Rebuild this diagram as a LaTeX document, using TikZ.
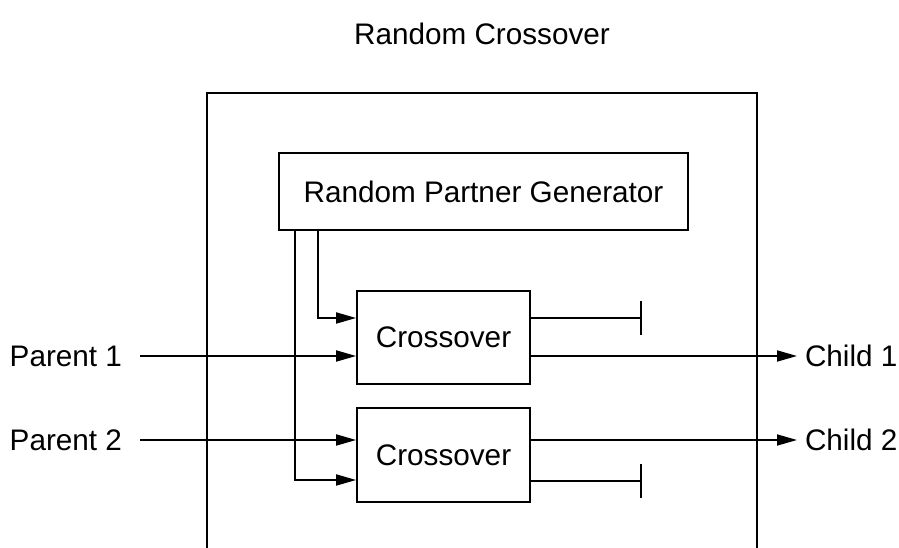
\documentclass[tikz,border=0pt]{standalone}
\usepackage{fontspec}
\setmainfont{Liberation Sans}
\usetikzlibrary{arrows.meta}
\tikzset{
	txt/.style={font=\fontsize{29.7}{36}\selectfont, inner sep=0pt},
	unit/.style={txt, draw, line width=1.8pt},
	flow/.style={line width=1.8pt, -{Triangle[length=20pt,width=11pt]}},
	wire/.style={line width=1.8pt},
}

\begin{document}
\begin{tikzpicture}[x=1pt, y=1pt]
		%%%%% START %%%%%
		\useasboundingbox (0, 0) rectangle (899, 548);
		
		\node[txt] (title) at (482, 514) {Random Crossover};
		\draw[wire] (207, 0) -- (207, 455) -- (757, 455) -- (757, 0);
		
		\node[unit, minimum width=409pt, minimum height=77pt] (rpg) at (483.5, 356.5) {Random Partner Generator};
		\node[unit, minimum width=173pt, minimum height=93pt] (c1) at (443.5, 210.5) {Crossover};
		\node[unit, minimum width=173pt, minimum height=94pt] (c2) at (443.5, 93) {Crossover};
		
		\node[txt, anchor=east, outer xsep=18pt] (p1) at (140, 192) {Parent 1};
		\node[txt, anchor=east, outer xsep=18pt] (p2) at (140, 108) {Parent 2};
		\node[txt, anchor=west, outer xsep=8pt] (k1) at (797, 192) {Child 1};
		\node[txt, anchor=west, outer xsep=8pt] (k2) at (797, 108) {Child 2};
		
		\coordinate (s1) at (641, 230);
		\coordinate (s2) at (641, 67);
		
		\draw[flow] ([xshift=17pt]rpg.south west) |- ([yshift=-25pt]c2.west);
		\draw[flow] ([xshift=40pt]rpg.south west) |- ([yshift=19.5pt]c1.west);
		
		\draw[flow] (p1.east) -- (p1.east -| c1.west);
		\draw[flow] (p2.east) -- (p2.east -| c2.west);
		
		\draw[flow] (c1.east |- k1.west) -- (k1.west);
		\draw[flow] (c2.east |- k2.west) -- (k2.west);
		
		\draw[wire] (c1.east |- s1) -- (s1);
		\draw[wire] ([yshift=17pt]s1) -- ([yshift=-17pt]s1);
		\draw[wire] (c2.east |- s2) -- (s2);
		\draw[wire] ([yshift=17pt]s2) -- ([yshift=-17pt]s2);
		%%%%% END %%%%%
	\end{tikzpicture}
\end{document}
